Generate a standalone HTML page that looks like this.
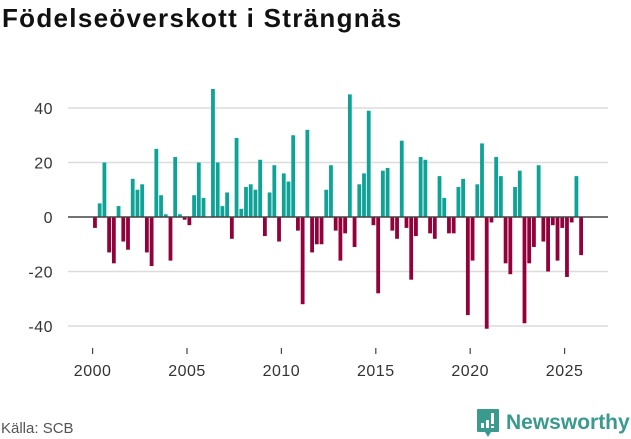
<!DOCTYPE html>
<html><head><meta charset="utf-8"><style>
body{margin:0;background:#fff;width:631px;height:439px;overflow:hidden;font-family:"Liberation Sans",sans-serif;}
#title{position:absolute;left:2px;top:3px;font-size:26px;font-weight:bold;color:#111;margin:0;letter-spacing:1.3px}
#src{position:absolute;left:1px;top:420px;font-size:15px;color:#555}
#logo{position:absolute;left:476px;top:408px;display:flex;align-items:center}
#logo span{font-size:21px;font-weight:bold;color:#3a9a8e;margin-left:6px}
</style></head><body>
<h1 id="title">Födelseöverskott i Strängnäs</h1>
<svg id="chart" width="631" height="439" style="position:absolute;left:0;top:0"></svg>
<div id="src">Källa: SCB</div>
<div id="logo">
<svg width="24" height="30" viewBox="0 0 24 30"><path d="M2 1h20a1 1 0 0 1 1 1v21a1 1 0 0 1-1 1H15l-3 5-3-5H2a1 1 0 0 1-1-1V2a1 1 0 0 1 1-1z" fill="#3a9a8e"/><rect x="5" y="15" width="3" height="5" fill="#fff"/><rect x="10" y="12" width="3" height="8" fill="#fff"/><rect x="15" y="5" width="3" height="11" fill="#fff"/><rect x="15" y="18" width="3" height="2" fill="#fff"/></svg>
<span>Newsworthy</span></div>
<script>
const startYear = 2000;
const values = [-4,5,20,-13,-17,4,-9,-12,14,10,12,-13,-18,25,8,1,-16,22,1,-1,-3,8,20,7,0,47,20,4,9,-8,29,3,11,12,10,21,-7,9,19,-9,16,13,30,-5,-32,32,-13,-10,-10,10,19,-5,-16,-6,45,-11,12,16,39,-3,-28,17,18,-5,-8,28,-4,-23,-7,22,21,-6,-8,15,7,-6,-6,11,14,-36,-16,12,27,-41,-2,22,15,-17,-21,11,17,-39,-17,-11,19,-9,-20,-3,-16,-4,-22,-2,15,-14];
const yTicks = [-40,-20,0,20,40];
const xTicks = [2000,2005,2010,2015,2020,2025];
const NS="http://www.w3.org/2000/svg";
const svg=document.getElementById('chart');
const xS=t=>92.6+18.88*(t-2000);
const yS=v=>217-2.725*v;
function mk(tag,attrs){const e=document.createElementNS(NS,tag);for(const k in attrs)e.setAttribute(k,attrs[k]);svg.appendChild(e);return e;}
yTicks.forEach(v=>{
  if(v!==0){const g=mk('line',{x1:68,x2:608,y1:yS(v),y2:yS(v),stroke:'#dcdcdc','stroke-width':1.5});
  
  }
  const t=mk('text',{x:53,y:yS(v)+6,'text-anchor':'end','font-size':16,fill:'#333','font-family':'Liberation Sans, sans-serif','letter-spacing':0.5});
  t.textContent=v;
  
  
});
values.forEach((v,i)=>{
  const t=startYear+(i+0.5)/4;
  const x=xS(t);
  const r=mk('rect',{x:x-1.9,width:3.8,y:Math.min(yS(v),yS(0)),height:Math.abs(yS(v)-yS(0)),fill:v>=0?'#0ea397':'#93003a'});
  
  
});
const z=mk('line',{x1:68,x2:608,y1:yS(0),y2:yS(0),stroke:'#444','stroke-width':1.5});


xTicks.forEach(y=>{
  const tk=mk('line',{x1:xS(y),x2:xS(y),y1:348,y2:354,stroke:'#444','stroke-width':1.2});
  
  
  const t=mk('text',{x:xS(y),y:376,'text-anchor':'middle','font-size':16,fill:'#333','font-family':'Liberation Sans, sans-serif','letter-spacing':0.5});
  t.textContent=y;
  
  
});
</script>
</body></html>
